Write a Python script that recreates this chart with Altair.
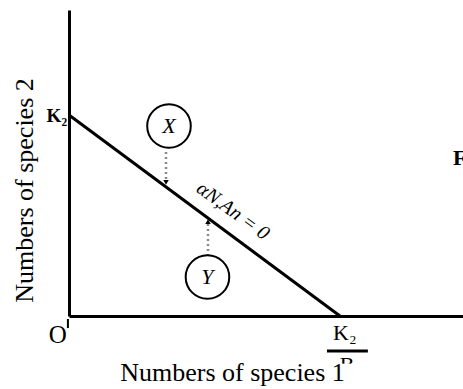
import altair as alt
import pandas as pd

# Isocline of species 2: N2 = K2 - beta * N1 (units chosen so K2 = K2/beta = 100)
K2 = 100.0
K2_over_beta = 100.0
x_domain = [0, 145.4]
y_domain = [0, 152.2]

iso_x = [0.0, K2_over_beta]
iso_y = [K2, 0.0]

# Two population states, one above and one below the isocline
state_names = ["X", "Y"]
state_x = [36.9, 51.1]
state_y = [94.5, 19.4]
# dotted trajectories (start -> end) toward the isocline
traj_x = [35.8, 51.3]
traj_y0 = [81.6, 29.9]
traj_y1 = [66.5, 47.0]
arrow_shapes = ["triangle-down", "triangle-up"]

SERIF = "Liberation Serif"

xs = alt.Scale(domain=x_domain, nice=False, zero=False)
ys = alt.Scale(domain=y_domain, nice=False, zero=False)

iso_df = pd.DataFrame({"n1": iso_x, "n2": iso_y})
states = pd.DataFrame({"name": state_names, "n1": state_x, "n2": state_y})
trajs = pd.DataFrame({"n1": traj_x, "y0": traj_y0, "y1": traj_y1, "shape": arrow_shapes})


def text_layer(n1, n2, label, **style):
    df = pd.DataFrame({"n1": [n1], "n2": [n2], "t": [label]})
    return alt.Chart(df).mark_text(font=SERIF, color="black", baseline="middle", **style).encode(
        x=alt.X("n1:Q", scale=xs), y=alt.Y("n2:Q", scale=ys), text="t:N"
    )


isocline = alt.Chart(iso_df).mark_line(color="black", strokeWidth=3).encode(
    x=alt.X("n1:Q", scale=xs, axis=alt.Axis(
        title="Numbers of species 1", titleX=163, titleY=56, zindex=2,
        titleAlign="center", titleBaseline="middle")),
    y=alt.Y("n2:Q", scale=ys, axis=alt.Axis(
        title="Numbers of species 2", titleX=-45, titleY=180, titleAngle=270,
        titleAlign="center", titleBaseline="middle")),
)

traj = alt.Chart(trajs).mark_rule(
    color="#8a8a8a", strokeWidth=2.5, strokeDash=[2, 3]
).encode(x=alt.X("n1:Q", scale=xs), y=alt.Y("y0:Q", scale=ys), y2="y1:Q")

heads = alt.Chart(trajs).mark_point(
    filled=True, color="black", size=30, opacity=1
).encode(
    x=alt.X("n1:Q", scale=xs), y=alt.Y("y1:Q", scale=ys),
    shape=alt.Shape("shape:N", scale=None),
)

rings = alt.Chart(states).mark_point(
    shape="circle", size=1900, stroke="black", strokeWidth=2, filled=False, opacity=1
).encode(x=alt.X("n1:Q", scale=xs), y=alt.Y("n2:Q", scale=ys))

letters = alt.Chart(states).mark_text(
    font=SERIF, fontStyle="italic", fontSize=22, color="black", baseline="middle"
).encode(x=alt.X("n1:Q", scale=xs), y=alt.Y("n2:Q", scale=ys), text="name:N")

iso_label = text_layer(60.5, 52.2, "αN,An = 0", fontStyle="italic", fontSize=20, angle=36)

# Axis annotations: origin, intercepts and the cut-off letter on the right
origin = text_layer(-4.1, -9.5, "O", fontSize=25)
k2_y = text_layer(-0.7, 99.5, "K₂", fontSize=19, fontWeight="bold", align="right")
k2_x = text_layer(101.8, -8.5, "K₂", fontSize=22)
f_letter = text_layer(141.7, 78.6, "F", fontSize=22, fontWeight="bold", align="left")

corner_mark = alt.Chart(pd.DataFrame({"n1": [-0.4], "a": [-1.5], "b": [-6.0]})).mark_rule(
    color="black", strokeWidth=2
).encode(x=alt.X("n1:Q", scale=xs), y=alt.Y("a:Q", scale=ys), y2="b:Q")

frac_bar = alt.Chart(pd.DataFrame({"a": [95.2], "b": [110.3], "n2": [-17.4]})).mark_rule(
    color="black", strokeWidth=3
).encode(x=alt.X("a:Q", scale=xs), x2="b:Q", y=alt.Y("n2:Q", scale=ys))

denom = text_layer(102.6, -24.6, "B", fontSize=22)

denom_mask = alt.Chart(pd.DataFrame({"a": [98.2], "b": [107.4], "c": [-23.7], "d": [-34.3]})).mark_rect(
    color="white"
).encode(x=alt.X("a:Q", scale=xs), x2="b:Q", y=alt.Y("c:Q", scale=ys), y2="d:Q")

chart = alt.layer(
    isocline, traj, heads, rings, letters, iso_label,
    origin, k2_y, k2_x, f_letter, corner_mark, frac_bar, denom, denom_mask
).properties(
    width=394, height=306,
    autosize=alt.AutoSizeParams(type="none"),
    padding={"left": 69, "top": 10, "right": 0, "bottom": 73},
).configure_view(stroke=None).configure_axis(
    domainColor="black", domainWidth=3, ticks=False, labels=False, grid=False,
    titleFont=SERIF, titleFontSize=26, titleFontWeight="normal", titleColor="black",
)

chart.save("out.html", embed_options={"renderer": "svg", "actions": False})
